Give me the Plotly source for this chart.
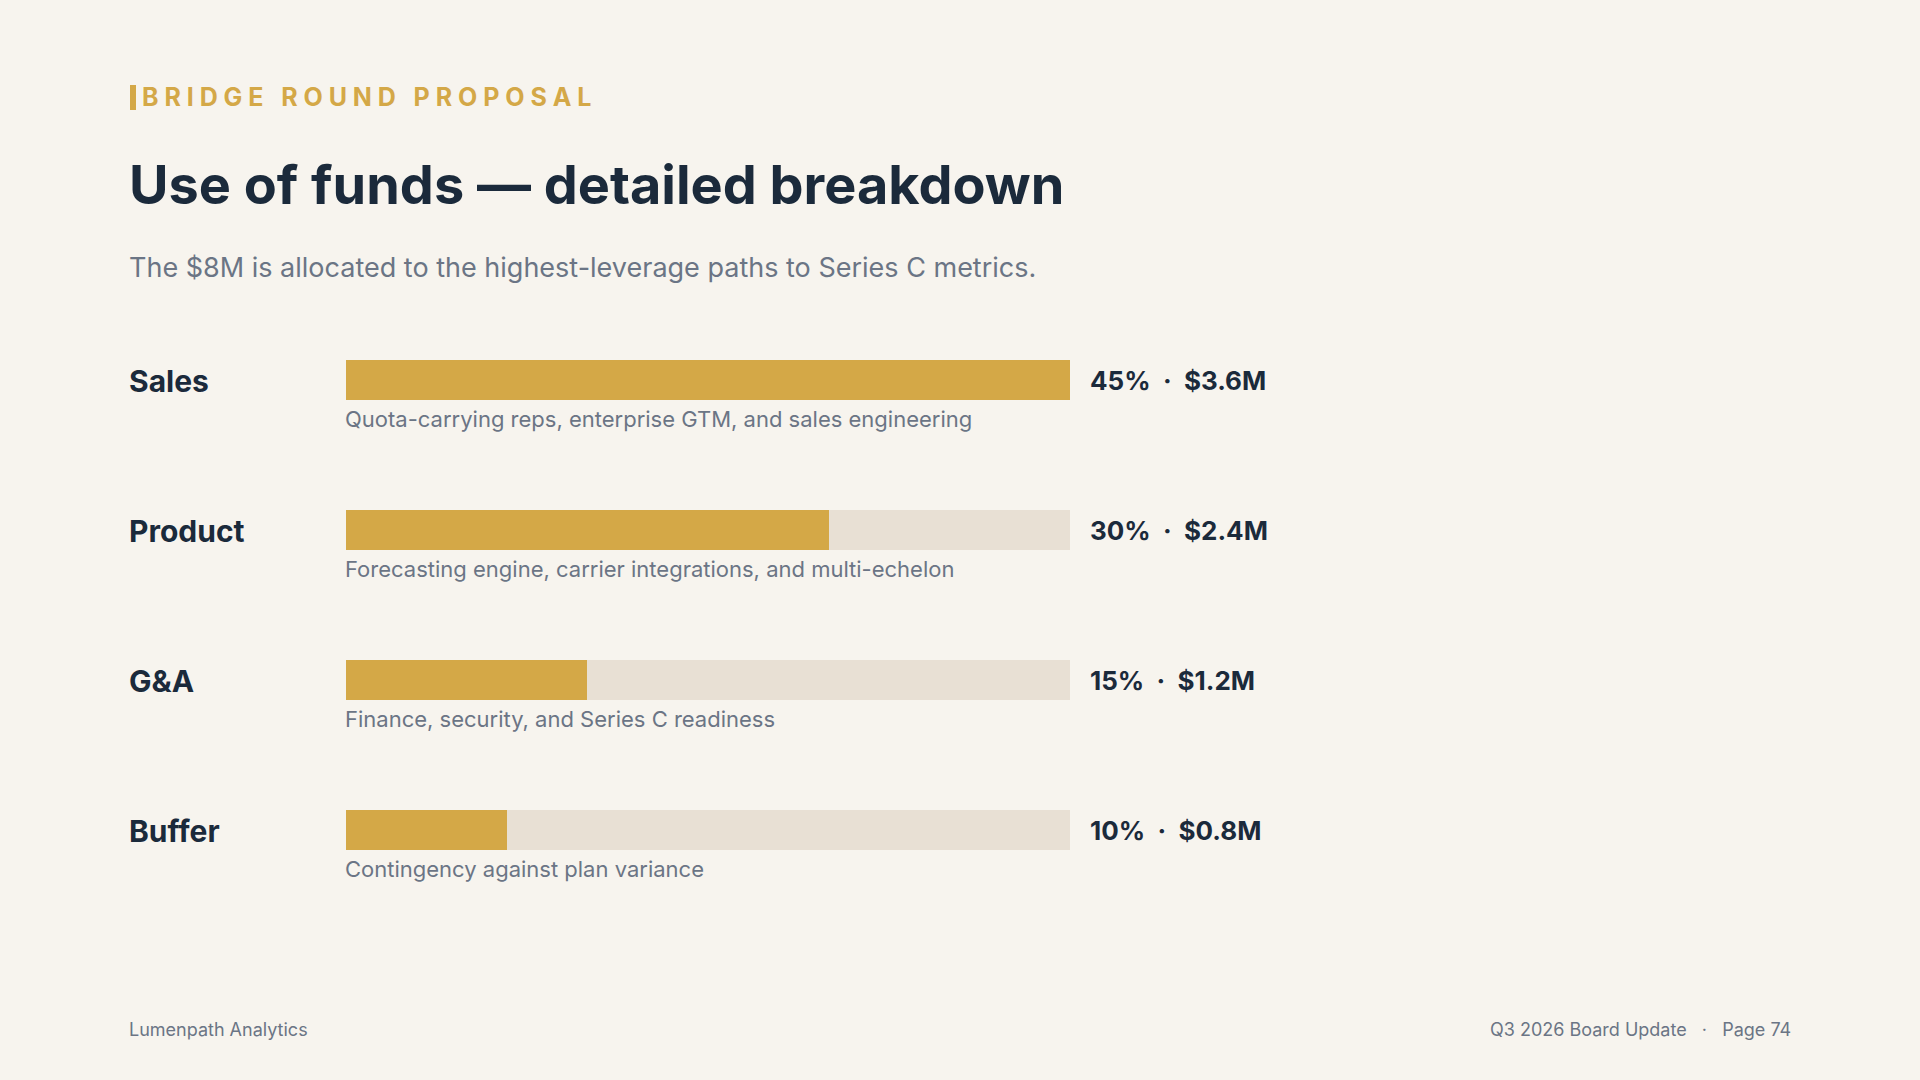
import plotly.graph_objects as go

categories = ["Sales", "Product", "G&A", "Buffer"]
shares = [45, 30, 15, 10]
amounts = ["$3.6M", "$2.4M", "$1.2M", "$0.8M"]
descriptions = [
    "Quota-carrying reps, enterprise GTM, and sales engineering",
    "Forecasting engine, carrier integrations, and multi-echelon",
    "Finance, security, and Series C readiness",
    "Contingency against plan variance",
]
scale_max = max(shares)

BG = "#f7f4ee"
GOLD = "#d4a847"
TRACK = "#e8e0d4"
NAVY = "#1b2a3b"
GRAY = "#6b7585"
FONT = "Inter"

W, H = 1920, 1080
pos = list(range(len(categories)))
PAD = -3  # compensate annotation box padding

fig = go.Figure()
fig.add_trace(go.Bar(
    y=pos, x=[scale_max] * len(pos), orientation="h",
    marker=dict(color=TRACK, line=dict(width=0)), width=40 / 150,
    hoverinfo="skip", showlegend=False,
))
fig.add_trace(go.Bar(
    y=pos, x=shares, orientation="h",
    marker=dict(color=GOLD, line=dict(width=0)), width=40 / 150,
    showlegend=False,
))

ann = []
for i, (c, s, a, d) in enumerate(zip(categories, shares, amounts, descriptions)):
    ann.append(dict(x=130 / W, xref="paper", y=i, yref="y", xshift=PAD, yshift=-1, text=c,
                    showarrow=False, xanchor="left", yanchor="middle",
                    font=dict(family=FONT, size=30, color=NAVY, weight=700)))
    ann.append(dict(x=scale_max, xref="x", y=i, yref="y", xshift=21 + PAD,
                    text=f"{s}%\u00a0\u00a0·\u00a0\u00a0{a}", showarrow=False,
                    xanchor="left", yanchor="middle",
                    font=dict(family=FONT, size=26, color=NAVY, weight=700)))
    ann.append(dict(x=0, xref="x", y=i, yref="y", xshift=PAD, yshift=-39, text=d,
                    showarrow=False, xanchor="left", yanchor="middle",
                    font=dict(family=FONT, size=22, color=GRAY)))

eyebrow = "\u2009\u200a".join(list("BRIDGE ROUND PROPOSAL"))
ann.append(dict(x=143 / W, xref="paper", y=1 - 96.5 / H, yref="paper", text=eyebrow,
                xshift=PAD, showarrow=False, xanchor="left", yanchor="middle",
                font=dict(family=FONT, size=25, color=GOLD, weight=700)))
ann.append(dict(x=130 / W, xref="paper", y=1 - 184 / H, yref="paper",
                text="Use of funds — detailed breakdown", xshift=PAD, showarrow=False,
                xanchor="left", yanchor="middle",
                font=dict(family=FONT, size=54, color=NAVY, weight=700)))
ann.append(dict(x=130 / W, xref="paper", y=1 - 268 / H, yref="paper",
                text="The $8M is allocated to the highest-leverage paths to Series C metrics.",
                xshift=PAD, showarrow=False, xanchor="left", yanchor="middle",
                font=dict(family=FONT, size=27, color=GRAY)))
ann.append(dict(x=130 / W, xref="paper", y=1 - 1029 / H, yref="paper",
                text="Lumenpath Analytics", xshift=PAD, showarrow=False,
                xanchor="left", yanchor="middle",
                font=dict(family=FONT, size=18, color=GRAY)))
ann.append(dict(x=1790 / W, xref="paper", y=1 - 1029 / H, yref="paper",
                text="Q3 2026 Board Update\u00a0\u00a0\u00a0·\u00a0\u00a0\u00a0Page 74",
                xshift=-PAD, showarrow=False, xanchor="right", yanchor="middle",
                font=dict(family=FONT, size=18, color=GRAY)))

fig.update_layout(
    width=W, height=H, margin=dict(l=0, r=0, t=0, b=0),
    paper_bgcolor=BG, plot_bgcolor=BG, barmode="overlay", bargap=0,
    xaxis=dict(domain=[346 / W, 1070 / W], range=[0, scale_max], visible=False, fixedrange=True),
    yaxis=dict(domain=[0, 1], range=[(H - 380) / 150, -380 / 150], visible=False, fixedrange=True),
    annotations=ann,
    shapes=[dict(type="rect", xref="paper", yref="paper",
                 x0=130 / W, x1=136 / W, y0=1 - 110 / H, y1=1 - 85 / H,
                 fillcolor=GOLD, line=dict(width=0))],
    font=dict(family=FONT),
)

fig.write_html("out.html")
